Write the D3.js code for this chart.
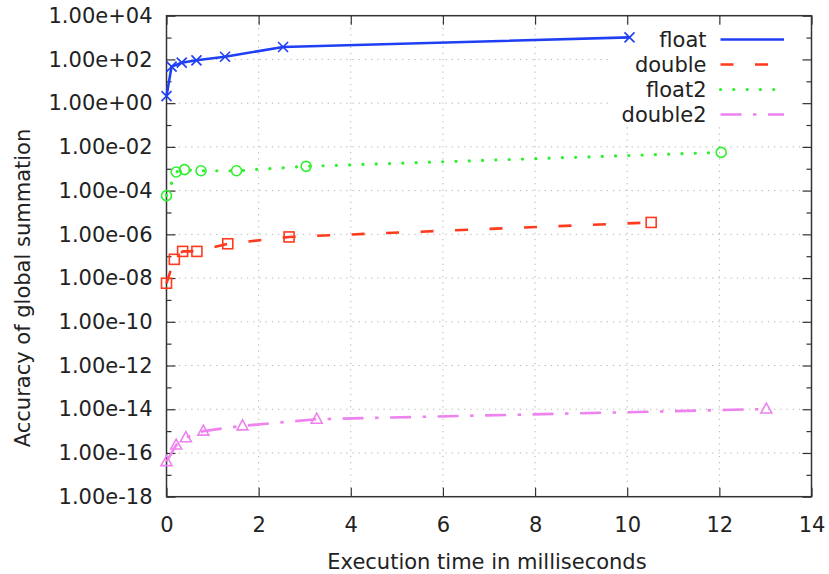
<!DOCTYPE html>
<html>
<head>
<meta charset="utf-8">
<script src="https://cdn.jsdelivr.net/npm/d3@7"></script>
<style>
  body { margin: 0; background: #fff; }
  svg { display: block; font-family: "DejaVu Sans", sans-serif; }
</style>
</head>
<body>
<svg id="chart" width="829" height="574"></svg>
<script>
// data (x in ms, y as accuracy)
const seriesNames = ["float", "double", "float2", "double2"];
const floatX = [0, 0.11, 0.33, 0.65, 1.27, 2.53, 10.05];
const floatY = [2.1, 47, 71, 91, 133, 372, 1020];
const doubleX = [0, 0.17, 0.35, 0.66, 1.33, 2.66, 10.52];
const doubleY = [5.8e-9, 7.2e-8, 1.66e-7, 1.66e-7, 3.7e-7, 7.6e-7, 3.5e-6];
const float2X = [0, 0.21, 0.39, 0.75, 1.52, 3.03, 12.04];
const float2Y = [5.9e-5, 7.1e-4, 9.1e-4, 8.1e-4, 8.1e-4, 1.29e-3, 5.6e-3];
const double2X = [0, 0.21, 0.42, 0.8, 1.65, 3.26, 13.02];
const double2Y = [4.0e-17, 2.3e-16, 5.0e-16, 1.0e-15, 1.74e-15, 3.5e-15, 1.02e-14];
const xTicks = [0, 2, 4, 6, 8, 10, 12, 14];
const yExponents = [4, 2, 0, -2, -4, -6, -8, -10, -12, -14, -16, -18];

const svg = d3.select("#chart");
const plotLeft = 166.5, plotRight = 811.5, plotTop = 15.7, plotBottom = 496.7;
const fontSize = "21px";

const x = d3.scaleLinear().domain([0, 14]).range([plotLeft, plotRight]);
const y = d3.scaleLog().domain([1e-18, 1e4]).range([plotBottom, plotTop]);

// labels like 1.00e+04 (two digit exponent like gnuplot)
function fmtExp(v) {
    const e = Math.round(Math.log10(v));
    const sign = e < 0 ? "-" : "+";
    return "1.00e" + sign + String(Math.abs(e)).padStart(2, "0");
}

const majorY = yExponents.map(e => Math.pow(10, e));
const minorY = d3.range(-17, 4, 2).map(e => Math.pow(10, e));

// grid, dotted grey
const grid = svg.append("g").attr("stroke", "#b0b0b0").attr("stroke-width", 1)
    .attr("stroke-dasharray", "1.2 5");
xTicks.slice(1, -1).forEach(t => {
    grid.append("line").attr("x1", x(t)).attr("x2", x(t)).attr("y1", plotTop).attr("y2", plotBottom);
});
majorY.slice(1, -1).forEach(v => {
    grid.append("line").attr("x1", plotLeft).attr("x2", plotRight).attr("y1", y(v)).attr("y2", y(v));
});

// legend background covers the grid
svg.append("rect").attr("x", 612).attr("y", 26).attr("width", 198).attr("height", 101).attr("fill", "#fff");

// axes, ticks pointing inward
function styleAxis(g) {
    g.select(".domain").remove();
    g.selectAll(".tick line").attr("stroke", "#333").attr("stroke-width", 1.2);
    g.selectAll(".tick text").attr("fill", "#222").style("font-size", fontSize)
        .style("font-family", "DejaVu Sans, sans-serif");
}

svg.append("g").attr("transform", `translate(0,${plotBottom})`)
    .call(d3.axisBottom(x).tickValues(xTicks).tickSize(-9).tickPadding(20).tickFormat(d3.format("d")))
    .call(styleAxis);
svg.append("g").attr("transform", `translate(0,${plotTop})`)
    .call(d3.axisTop(x).tickValues(xTicks).tickSize(-9).tickFormat(""))
    .call(styleAxis);
svg.append("g").attr("transform", `translate(${plotLeft},0)`)
    .call(d3.axisLeft(y).tickValues(majorY).tickSize(-9).tickPadding(14).tickFormat(fmtExp))
    .call(styleAxis);
svg.append("g").attr("transform", `translate(${plotLeft},0)`)
    .call(d3.axisLeft(y).tickValues(minorY).tickSize(-5).tickFormat(""))
    .call(styleAxis);
svg.append("g").attr("transform", `translate(${plotRight},0)`)
    .call(d3.axisRight(y).tickValues(majorY).tickSize(-9).tickFormat(""))
    .call(styleAxis);
svg.append("g").attr("transform", `translate(${plotRight},0)`)
    .call(d3.axisRight(y).tickValues(minorY).tickSize(-5).tickFormat(""))
    .call(styleAxis);

// frame
svg.append("rect").attr("x", plotLeft).attr("y", plotTop)
    .attr("width", plotRight - plotLeft).attr("height", plotBottom - plotTop)
    .attr("fill", "none").attr("stroke", "#333").attr("stroke-width", 1.5);

// series
const series = [
    { name: seriesNames[0], xs: floatX, ys: floatY, color: "#1f3ff5", dash: null, width: 2.6, marker: "x" },
    { name: seriesNames[1], xs: doubleX, ys: doubleY, color: "#ff3a1e", dash: "13 21.5", width: 2.6, marker: "square" },
    { name: seriesNames[2], xs: float2X, ys: float2Y, color: "#2ef02e", dash: "0.1 13.2", width: 3.2, marker: "circle", cap: "round" },
    { name: seriesNames[3], xs: double2X, ys: double2Y, color: "#ee82ee", dash: "21 11.5 3.5 11.5", width: 2.6, marker: "triangle" }
];

const line = d3.line().x(d => x(d[0])).y(d => y(d[1]));

function drawMarker(g, type, cx, cy, color) {
    const m = g.append("g").attr("transform", `translate(${cx},${cy})`)
        .attr("fill", "none").attr("stroke", color).attr("stroke-width", 1.6);
    if (type === "x") {
        m.append("path").attr("d", "M-5,-5L5,5M-5,5L5,-5");
    } else if (type === "square") {
        m.append("rect").attr("x", -5).attr("y", -5).attr("width", 10).attr("height", 10);
    } else if (type === "circle") {
        m.append("circle").attr("r", 5);
    } else {
        m.append("path").attr("d", "M0,-6L5.5,4L-5.5,4Z");
    }
}

series.forEach(s => {
    const pts = s.xs.map((v, i) => [v, s.ys[i]]);
    const g = svg.append("g");
    g.append("path").attr("d", line(pts)).attr("fill", "none")
        .attr("stroke", s.color).attr("stroke-width", s.width)
        .attr("stroke-dasharray", s.dash)
        .attr("stroke-linecap", s.cap || "butt")
        .attr("stroke-linejoin", "round");
    pts.forEach(p => drawMarker(g, s.marker, x(p[0]), y(p[1]), s.color));
});

// legend
const legend = svg.append("g");
series.forEach((s, i) => {
    const ly = 39.5 + i * 25;
    legend.append("text").attr("x", 706.5).attr("y", ly).attr("dy", "0.36em")
        .attr("text-anchor", "end").attr("fill", "#222").style("font-size", fontSize).text(s.name);
    legend.append("line").attr("x1", 720.5).attr("x2", 784).attr("y1", ly).attr("y2", ly)
        .attr("stroke", s.color).attr("stroke-width", s.width)
        .attr("stroke-dasharray", s.dash).attr("stroke-linecap", s.cap || "butt");
});

// axis titles
svg.append("text").attr("x", 487).attr("y", 569).attr("text-anchor", "middle")
    .attr("fill", "#222").style("font-size", fontSize).text("Execution time in milliseconds");
svg.append("text").attr("transform", "translate(30,288) rotate(-90)").attr("text-anchor", "middle")
    .attr("fill", "#222").style("font-size", fontSize).text("Accuracy of global summation");
</script>
</body>
</html>
